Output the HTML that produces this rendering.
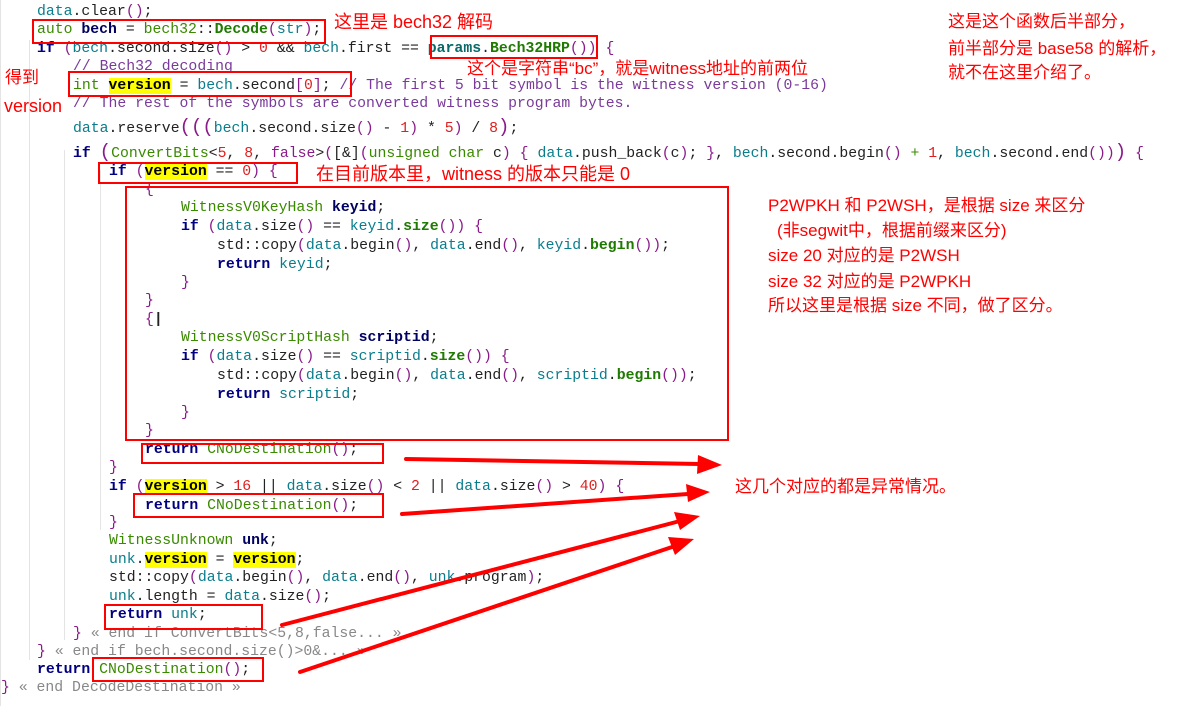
<!DOCTYPE html>
<html><head><meta charset="utf-8"><style>
body{margin:0;width:1203px;height:706px;background:#fff;position:relative;overflow:hidden;font-family:"Liberation Mono",monospace}
.l{position:absolute;white-space:pre;font-size:14.8px;line-height:18px;color:#222}
.k{color:#000080;font-weight:bold}
.t{color:#0a7d8c}
.g{color:#3a8a00}
.gb{color:#1e7a00;font-weight:bold}
.p{color:#8a1a8a}
.c{color:#7a3a9a}
.n{color:#e02020}
.b{font-weight:bold;color:#000060}
.y{background:#ffff00;font-weight:bold;color:#000}
.gr{color:#888}
.box{position:absolute;border:2px solid #f00;box-sizing:border-box}
.a{position:absolute;color:#f00;font-family:"Liberation Sans","Noto Sans CJK SC",sans-serif;font-size:17px;line-height:20px;white-space:nowrap}
.v{position:absolute;width:1px;background:#e4e4e4}
</style></head><body>
<div class="v" style="left:0;top:0;height:706px"></div>
<div class="v" style="left:29px;top:40px;height:620px"></div>
<div class="v" style="left:64px;top:150px;height:490px"></div>
<div class="v" style="left:100px;top:170px;height:360px"></div>

<div class="l" style="left:37px;top:3px"><span class="t">data</span>.clear<span class="p">()</span>;</div>
<div class="l" style="left:37px;top:21px"><span class="g">auto</span> <span class="b">bech</span> = <span class="g">bech32</span>::<span class="gb">Decode</span><span class="p">(</span><span class="t">str</span><span class="p">)</span>;</div>
<div class="l" style="left:37px;top:40px"><span class="k">if</span> <span class="p">(</span><span class="t">bech</span>.second.size<span class="p">()</span> &gt; <span class="n">0</span> &amp;&amp; <span class="t">bech</span>.first == <span class="gb" style="color:#0a6a6a">params</span>.<span class="gb">Bech32HRP</span><span class="p">()</span><span class="p">)</span> <span class="p">{</span></div>
<div class="l" style="left:73px;top:58px"><span class="c">// Bech32 decoding</span></div>
<div class="l" style="left:73px;top:77px"><span class="g">int</span> <span class="y">version</span> = <span class="t">bech</span>.second<span class="p">[</span><span class="n">0</span><span class="p">]</span>; <span class="c">// The first 5 bit symbol is the witness version (0-16)</span></div>
<div class="l" style="left:73px;top:95px"><span class="c">// The rest of the symbols are converted witness program bytes.</span></div>
<div class="l" style="left:73px;top:118px"><span class="t">data</span>.reserve<span class="p" style="font-size:19px">(((</span><span class="t">bech</span>.second.size<span class="p">()</span> - <span class="n">1</span><span class="p">)</span> * <span class="n">5</span><span class="p">)</span> / <span class="n">8</span><span class="p" style="font-size:19px">)</span>;</div>
<div class="l" style="left:73px;top:143px"><span class="k">if</span> <span class="p" style="font-size:19px">(</span><span class="g">ConvertBits</span>&lt;<span class="n">5</span>, <span class="n">8</span>, <span class="p">false</span>&gt;<span class="p">(</span>[&amp;]<span class="p">(</span><span class="g">unsigned char</span> c<span class="p">)</span> <span class="p">{</span> <span class="t">data</span>.push_back<span class="p">(</span>c<span class="p">)</span>; <span class="p">}</span>, <span class="t">bech</span>.second.begin<span class="p">()</span> <span class="g">+</span> <span class="n">1</span>, <span class="t">bech</span>.second.end<span class="p">())</span><span class="p" style="font-size:19px">)</span> <span class="p">{</span></div>
<div class="l" style="left:109px;top:163px"><span class="k">if</span> <span class="p">(</span><span class="y">version</span> == <span class="n">0</span><span class="p">)</span> <span class="p">{</span></div>
<div class="l" style="left:145px;top:181px"><span class="p">{</span></div>
<div class="l" style="left:181px;top:199px"><span class="g">WitnessV0KeyHash</span> <span class="b">keyid</span>;</div>
<div class="l" style="left:181px;top:218px"><span class="k">if</span> <span class="p">(</span><span class="t">data</span>.size<span class="p">()</span> == <span class="t">keyid</span>.<span class="gb">size</span><span class="p">())</span> <span class="p">{</span></div>
<div class="l" style="left:217px;top:237px">std::copy<span class="p">(</span><span class="t">data</span>.begin<span class="p">()</span>, <span class="t">data</span>.end<span class="p">()</span>, <span class="t">keyid</span>.<span class="gb">begin</span><span class="p">())</span>;</div>
<div class="l" style="left:217px;top:256px"><span class="k">return</span> <span class="t">keyid</span>;</div>
<div class="l" style="left:181px;top:274px"><span class="p">}</span></div>
<div class="l" style="left:145px;top:292px"><span class="p">}</span></div>
<div class="l" style="left:145px;top:311px"><span class="p">{</span><b>|</b></div>
<div class="l" style="left:181px;top:329px"><span class="g">WitnessV0ScriptHash</span> <span class="b">scriptid</span>;</div>
<div class="l" style="left:181px;top:348px"><span class="k">if</span> <span class="p">(</span><span class="t">data</span>.size<span class="p">()</span> == <span class="t">scriptid</span>.<span class="gb">size</span><span class="p">())</span> <span class="p">{</span></div>
<div class="l" style="left:217px;top:367px">std::copy<span class="p">(</span><span class="t">data</span>.begin<span class="p">()</span>, <span class="t">data</span>.end<span class="p">()</span>, <span class="t">scriptid</span>.<span class="gb">begin</span><span class="p">())</span>;</div>
<div class="l" style="left:217px;top:386px"><span class="k">return</span> <span class="t">scriptid</span>;</div>
<div class="l" style="left:181px;top:404px"><span class="p">}</span></div>
<div class="l" style="left:145px;top:422px"><span class="p">}</span></div>
<div class="l" style="left:145px;top:441px"><span class="k">return</span> <span class="g">CNoDestination</span><span class="p">()</span>;</div>
<div class="l" style="left:109px;top:459px"><span class="p">}</span></div>
<div class="l" style="left:109px;top:478px"><span class="k">if</span> <span class="p">(</span><span class="y">version</span> &gt; <span class="n">16</span> || <span class="t">data</span>.size<span class="p">()</span> &lt; <span class="n">2</span> || <span class="t">data</span>.size<span class="p">()</span> &gt; <span class="n">40</span><span class="p">)</span> <span class="p">{</span></div>
<div class="l" style="left:145px;top:497px"><span class="k">return</span> <span class="g">CNoDestination</span><span class="p">()</span>;</div>
<div class="l" style="left:109px;top:514px"><span class="p">}</span></div>
<div class="l" style="left:109px;top:532px"><span class="g">WitnessUnknown</span> <span class="b">unk</span>;</div>
<div class="l" style="left:109px;top:551px"><span class="t">unk</span>.<span class="y">version</span> = <span class="y">version</span>;</div>
<div class="l" style="left:109px;top:569px">std::copy<span class="p">(</span><span class="t">data</span>.begin<span class="p">()</span>, <span class="t">data</span>.end<span class="p">()</span>, <span class="t">unk</span>.program<span class="p">)</span>;</div>
<div class="l" style="left:109px;top:588px"><span class="t">unk</span>.length = <span class="t">data</span>.size<span class="p">()</span>;</div>
<div class="l" style="left:109px;top:606px"><span class="k">return</span> <span class="t">unk</span>;</div>
<div class="l" style="left:73px;top:625px"><span class="p">}</span> <span class="gr">« end if ConvertBits&lt;5,8,false... »</span></div>
<div class="l" style="left:37px;top:643px"><span class="p">}</span> <span class="gr">« end if bech.second.size()&gt;0&amp;... »</span></div>
<div class="l" style="left:37px;top:661px"><span class="k">return</span> <span class="g">CNoDestination</span><span class="p">()</span>;</div>
<div class="l" style="left:1px;top:679px"><span class="p">}</span> <span class="gr">« end DecodeDestination »</span></div>

<div class="box" style="left:32px;top:19px;width:294px;height:25px"></div>
<div class="box" style="left:430px;top:35px;width:168px;height:24px"></div>
<div class="box" style="left:68px;top:71px;width:284px;height:26px"></div>
<div class="box" style="left:98px;top:162px;width:200px;height:22px"></div>
<div class="box" style="left:125px;top:186px;width:604px;height:255px"></div>
<div class="box" style="left:141px;top:443px;width:243px;height:21px"></div>
<div class="box" style="left:133px;top:493px;width:251px;height:25px"></div>
<div class="box" style="left:104px;top:604px;width:159px;height:26px"></div>
<div class="box" style="left:92px;top:657px;width:172px;height:25px"></div>

<div class="a" style="left:334px;top:12px;font-size:18px">这里是 bech32 解码</div>
<div class="a" style="left:467px;top:59px">这个是字符串“bc”，就是witness地址的前两位</div>
<div class="a" style="left:5px;top:68px">得到</div>
<div class="a" style="left:4px;top:96px;font-size:18px">version</div>
<div class="a" style="left:316px;top:164px;font-size:18px">在目前版本里，witness 的版本只能是 0</div>
<div class="a" style="left:948px;top:12px">这是这个函数后半部分，</div>
<div class="a" style="left:948px;top:39px">前半部分是 base58 的解析，</div>
<div class="a" style="left:948px;top:63px">就不在这里介绍了。</div>
<div class="a" style="left:768px;top:196px">P2WPKH 和 P2WSH，是根据 size 来区分</div>
<div class="a" style="left:777px;top:221px">(非segwit中，根据前缀来区分)</div>
<div class="a" style="left:768px;top:246px">size 20 对应的是 P2WSH</div>
<div class="a" style="left:768px;top:272px">size 32 对应的是 P2WPKH</div>
<div class="a" style="left:768px;top:296px">所以这里是根据 size 不同，做了区分。</div>
<div class="a" style="left:735px;top:477px">这几个对应的都是异常情况。</div>

<svg width="1203" height="706" style="position:absolute;left:0;top:0">
<g stroke="#f00" stroke-width="4" fill="none" stroke-linecap="round">
<line x1="406" y1="459" x2="700" y2="464"/>
<line x1="402" y1="514" x2="688" y2="494"/>
<line x1="282" y1="625" x2="680" y2="521"/>
<line x1="300" y1="672" x2="675" y2="546"/>
</g>
<g fill="#f00">
<polygon points="722,465 698,455 697,474"/>
<polygon points="710,492 686,484 688,502"/>
<polygon points="700,516 674,512 680,530"/>
<polygon points="694,539 668,537 675,555"/>
</g>
</svg>
</body></html>
